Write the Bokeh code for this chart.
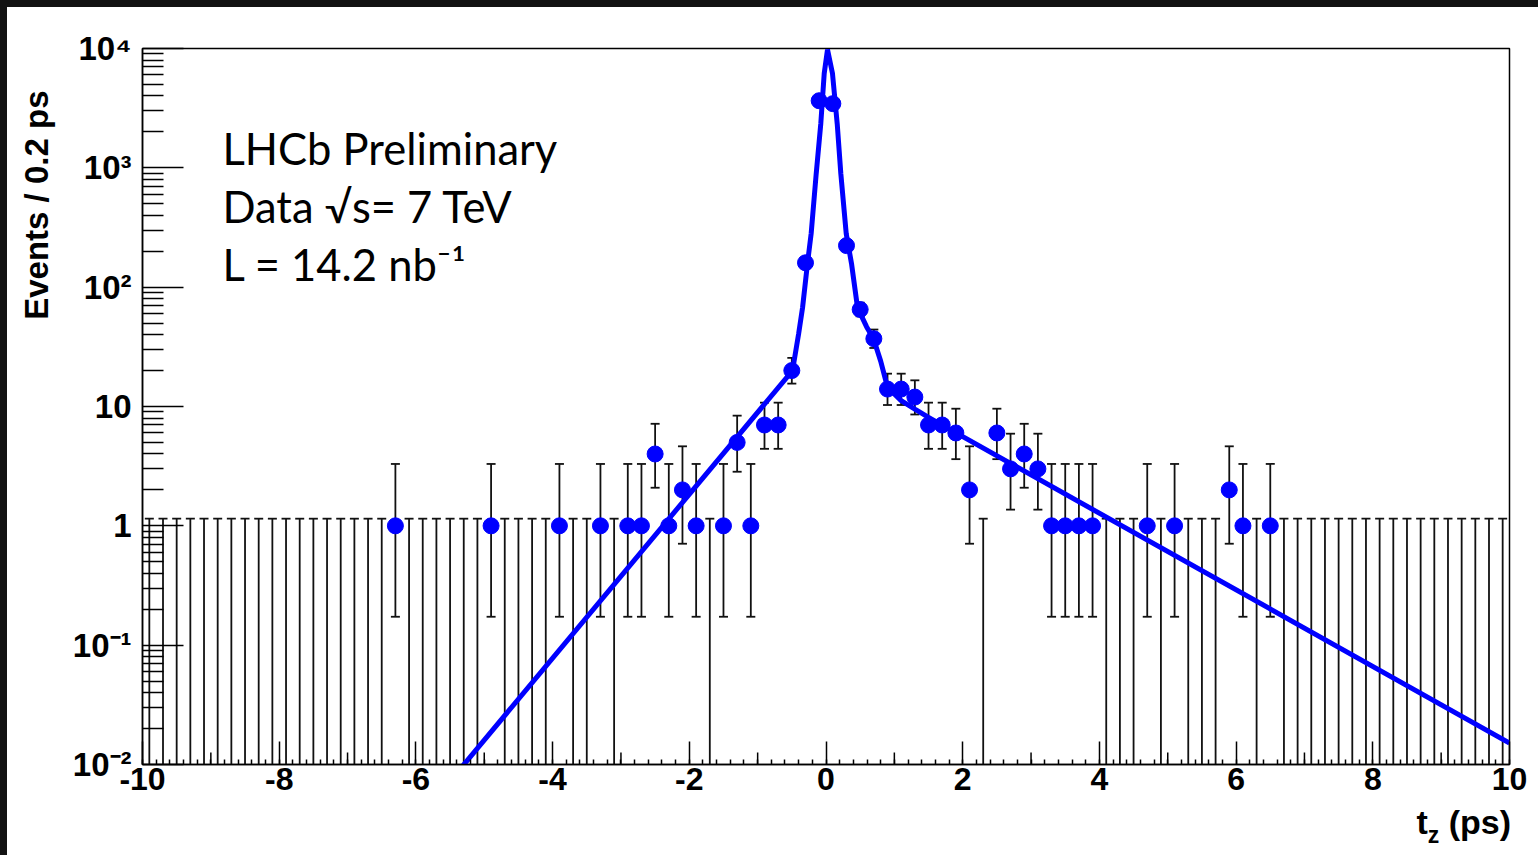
import math
from bokeh.plotting import figure
from bokeh.layouts import column
from bokeh.models import (Range1d, LinearScale, FixedTicker, CustomJSTickFormatter, Label, Title, Div)
from bokeh.embed import file_html
from bokeh.resources import INLINE

# ---------------- data ----------------
bin_width = 0.2
bin_centers = [round(-9.9 + bin_width * k, 1) for k in range(100)]
counts = [
    0, 0, 0, 0, 0, 0, 0, 0, 0, 0,
    0, 0, 0, 0, 0, 0, 0, 0, 1, 0,
    0, 0, 0, 0, 0, 1, 0, 0, 0, 0,
    1, 0, 0, 1, 0, 1, 1, 4, 1, 2,
    1, 0, 1, 5, 1, 7, 7, 20, 160, 3650,
    3450, 223, 65, 37, 14, 14, 12, 7, 7, 6,
    2, 0, 6, 3, 4, 3, 1, 1, 1, 1,
    0, 0, 0, 1, 0, 1, 0, 0, 0, 2,
    1, 0, 1, 0, 0, 0, 0, 0, 0, 0,
    0, 0, 0, 0, 0, 0, 0, 0, 0, 0,
]
# Poisson (Garwood 68%) interval limits for small counts
poisson_lo = {1: 0.173, 2: 0.708, 3: 1.367, 4: 2.086, 5: 2.840, 6: 3.620, 7: 4.419, 8: 5.232, 9: 6.057, 10: 6.891}
poisson_hi = {1: 3.300, 2: 4.638, 3: 5.918, 4: 7.163, 5: 8.382, 6: 9.584, 7: 10.77, 8: 11.95, 9: 13.11, 10: 14.27}
zero_upper = 1.148

# fit curve (t in ps, events / 0.2 ps)
fit_t = [-5.6, -0.49, -0.40, -0.343, -0.271, -0.217, -0.143, -0.076, -0.026, 0.022,
         0.095, 0.164, 0.217, 0.296, 0.373, 0.461, 0.593, 0.695, 0.80, 0.90,
         1.10, 1.30, 1.50, 10.0]
fit_y = [0.0062, 20, 40.8, 67.4, 158, 282, 898, 2357, 6190, 9800,
         6160, 2344, 892, 280, 158, 67.4, 46.7, 37, 24, 14.5,
         11.2, 9.5, 8.1, 0.0151]

x_major = [-10, -8, -6, -4, -2, 0, 2, 4, 6, 8, 10]
x_mid = [-9, -7, -5, -3, -1, 1, 3, 5, 7, 9]
x_minor = [round(-10 + 0.2 * i, 1) for i in range(101)]
y_major = [1e-2, 1e-1, 1, 1e1, 1e2, 1e3, 1e4]
y_minor = [m * 10.0 ** e for e in range(-2, 4) for m in range(2, 10)]

annot_lines = ["LHCb Preliminary", "Data \u221as= 7 TeV", "L = 14.2 nb\u207b\u00b9"]
y_title = "Events / 0.2 ps"
x_title_main, x_title_sub, x_title_unit = "t", "z", " (ps)"

# ---------------- derived ----------------
def lims(n):
    if n == 0:
        return 1e-5, zero_upper
    if n in poisson_lo:
        return poisson_lo[n], poisson_hi[n]
    return n - math.sqrt(n - 0.25), n + math.sqrt(n + 0.75) + 1

nz_x = [x for x, n in zip(bin_centers, counts) if n > 0]
nz_n = [n for n in counts if n > 0]
nz_lo = [lims(n)[0] for n in nz_n]
nz_hi = [lims(n)[1] for n in nz_n]
z_x = [x for x, n in zip(bin_centers, counts) if n == 0]
z_lo = [1e-5 for _ in z_x]
z_hi = [zero_upper for _ in z_x]

# ---------------- figure ----------------
W, H = 1538, 810
FL, FR, FT, FB = 142, 1509, 48, 764

p = figure(width=W, height=H, x_range=Range1d(-10, 10), y_range=Range1d(0.01, 1e4),
           y_axis_type="log", output_backend="svg", toolbar_location=None,
           min_border_left=FL, min_border_right=W - FR, min_border_top=FT, min_border_bottom=H - FB)
p.border_fill_color = None
p.background_fill_color = "white"
p.outline_line_color = "black"
p.outline_line_width = 1.5
p.xgrid.visible = False
p.ygrid.visible = False

p.extra_x_ranges = {"cx": Range1d(FL, FR)}
p.extra_y_ranges = {"cy": Range1d(FB, FT)}
p.extra_x_scales = {"cx": LinearScale()}
p.extra_y_scales = {"cy": LinearScale()}

ax = p.xaxis[0]
ax.ticker = FixedTicker(ticks=x_major, minor_ticks=x_minor)
ax.formatter = CustomJSTickFormatter(code="return tick.toFixed(0);")
ax.major_tick_in = 23
ax.major_tick_out = 0
ax.minor_tick_in = 5
ax.minor_tick_out = 0
ax.axis_line_width = 1.5
ax.major_tick_line_width = 1.5
ax.minor_tick_line_width = 1.5
ax.major_label_text_font = "Liberation Sans"
ax.major_label_text_font_style = "bold"
ax.major_label_text_font_size = "32px"
ax.major_label_text_color = "black"
ax.major_label_standoff = 3

ay = p.yaxis[0]
ay.ticker = FixedTicker(ticks=y_major, minor_ticks=y_minor)
ay.formatter = CustomJSTickFormatter(code="""
const e = Math.round(Math.log10(tick));
const sup = {"-":"\u207b","0":"\u2070","1":"\u00b9","2":"\u00b2","3":"\u00b3","4":"\u2074",
             "5":"\u2075","6":"\u2076","7":"\u2077","8":"\u2078","9":"\u2079"};
if (e == 0) return "1";
if (e == 1) return "10";
return "10" + String(e).split("").map(c => sup[c]).join("");
""")
ay.major_tick_in = 41
ay.major_tick_out = 0
ay.minor_tick_in = 21
ay.minor_tick_out = 0
ay.axis_line_width = 1.5
ay.major_tick_line_width = 1.5
ay.minor_tick_line_width = 1.5
ay.major_label_text_font = "Liberation Sans"
ay.major_label_text_font_style = "bold"
ay.major_label_text_font_size = "33px"
ay.major_label_text_color = "black"
ay.major_label_standoff = 11

# medium x ticks at odd integers (12 px long)
p.segment(x0=x_mid, x1=x_mid, y0=[FB] * len(x_mid), y1=[FB - 12] * len(x_mid),
          y_range_name="cy", line_color="black", line_width=1.5)

# error bars
p.segment(x0=z_x, x1=z_x, y0=z_lo, y1=z_hi, line_color="#111111", line_width=1.8)
p.scatter(x=z_x, y=z_hi, marker="dash", size=9, line_color="#111111", line_width=1.8)
p.segment(x0=nz_x, x1=nz_x, y0=nz_lo, y1=nz_hi, line_color="#111111", line_width=1.8)
p.scatter(x=nz_x + nz_x, y=nz_lo + nz_hi, marker="dash", size=9, line_color="#111111", line_width=1.8)

# data points
p.scatter(x=nz_x, y=nz_n, marker="circle", size=16, fill_color="#0000ff", line_color="#0000ff")

# fit curve
p.line(x=fit_t, y=fit_y, line_color="#0000ff", line_width=5)

# annotation text inside the frame
for i, t in enumerate(annot_lines):
    p.add_layout(Label(x=222, y=147 + 58 * i, x_range_name="cx", y_range_name="cy", text=t,
                       text_font="Lato", text_font_size="43.5px", text_baseline="alphabetic",
                       text_align="left", text_color="black"))

# y axis title (left side panel)
p.add_layout(Title(text=y_title, align="right", offset=42, standoff=30,
                   text_font="Liberation Sans", text_font_style="bold", text_font_size="33px",
                   text_color="black"), "left")

# x axis title with subscript, right-aligned under the frame
x_title_html = (
    '<div style="position:relative; top:-10px; width:%dpx; text-align:right; '
    'font-family:\'Liberation Sans\', Arial, sans-serif; font-weight:bold; font-size:34px; '
    'line-height:34px; color:#000; white-space:nowrap;">%s'
    '<span style="font-size:23px; position:relative; top:9px;">%s</span>%s</div>'
) % (FR - 3, x_title_main, x_title_sub, x_title_unit.replace(" ", "&nbsp;"))
xt = Div(text=x_title_html, width=FR, height=855 - H - 5)

page = column(p, xt, spacing=0)
page.styles = {
    "background": "linear-gradient(#121212,#121212) 0 0/100% 7px no-repeat, "
                  "linear-gradient(#121212,#121212) 0 0/7px 100% no-repeat, #ffffff",
}

open("out.html", "w").write(file_html(page, INLINE))
